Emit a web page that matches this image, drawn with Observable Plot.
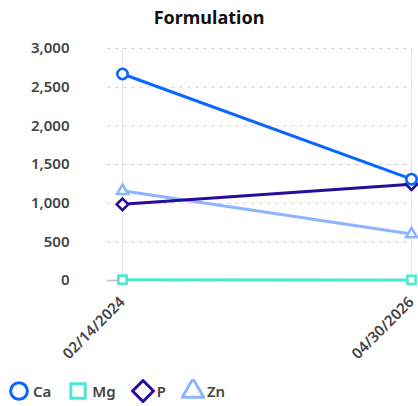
<!DOCTYPE html>
<html><head><meta charset="utf-8">
<script src="https://cdn.jsdelivr.net/npm/d3@7"></script>
<script src="https://cdn.jsdelivr.net/npm/@observablehq/plot@0.6"></script>
<style>
body{margin:0;background:#fff;font-family:"Noto Sans",sans-serif;}
#wrap{width:418px;}
#title{height:34px;line-height:34px;text-align:center;font-size:18px;font-weight:700;color:#111;}
#legend{display:flex;align-items:center;height:30px;padding-top:6px;padding-left:7px;font-size:15px;font-weight:600;color:#444;}
#legend .item{display:flex;align-items:center;margin-right:15px;}
#legend svg{margin-right:2px;}
</style></head><body><div id="wrap"><div id="title">Formulation</div><div id="chart"></div><div id="legend"></div></div>
<script>
const dates = ["02/14/2024", "04/30/2026"];
const series = ["Ca", "Mg", "P", "Zn"];
const caValues = [2670, 1310];
const mgValues = [10, 8];
const pValues = [985, 1245];
const znValues = [1160, 600];
const yTicks = [0, 500, 1000, 1500, 2000, 2500, 3000];
const colors = ["#0866ff", "#4fe6d6", "#2a0c9c", "#8db4ff"];
const symbols = ["circle", "square2", "diamond2", "triangle2"];
const drawOrder = ["Zn", "P", "Mg", "Ca"];

const valuesBySeries = {Ca: caValues, Mg: mgValues, P: pValues, Zn: znValues};
const rows = [];
drawOrder.forEach(s => dates.forEach((d, j) => rows.push({series: s, date: d, value: valuesBySeries[s][j]})));

const chart = Plot.plot({
  width: 418, height: 336,
  marginTop: 14, marginLeft: 122, marginRight: 7, marginBottom: 90,
  style: {fontFamily: "Noto Sans", background: "#fff"},
  x: {type: "point", domain: dates, padding: 0, label: null},
  y: {domain: [0, 3000], label: null},
  color: {domain: series, range: colors},
  symbol: {domain: series, range: symbols},
  marks: [
    Plot.gridX({stroke: "#e3e3e3", strokeOpacity: 1}),
    Plot.gridY(yTicks, {stroke: "#d6d6d6", strokeOpacity: 1, strokeDasharray: "4,4", insetLeft: -15, insetRight: -2}),
    Plot.ruleY([0], {stroke: "#bdbdbd", strokeWidth: 1.5, insetLeft: -15, insetRight: -2}),
    Plot.axisY(yTicks, {tickSize: 0, tickPadding: 53, tickFormat: d3.format(","), fontSize: 15, fontWeight: 600, fill: "#444"}),
    Plot.axisX({tickSize: 0, tickRotate: -45, tickPadding: 19, fontSize: 15, fontWeight: 600, fill: "#444"}),
    Plot.line(rows, {x: "date", y: "value", z: "series", stroke: "series", strokeWidth: 3}),
    Plot.dot(rows, {x: "date", y: "value", symbol: "series", stroke: "series", fill: "white", r: 5.2, strokeWidth: 2.6})
  ]
});
document.getElementById("chart").appendChild(chart);

const legend = d3.select("#legend");
const symMap = {circle: d3.symbolCircle, square2: d3.symbolSquare2, diamond2: d3.symbolDiamond2, triangle2: d3.symbolTriangle2};
const legendSizes = [220, 260, 280, 330];
series.forEach((s, i) => {
  const item = legend.append("div").attr("class", "item");
  const svg = item.append("svg").attr("width", 24).attr("height", 24);
  svg.append("path")
    .attr("transform", "translate(12,12)")
    .attr("d", d3.symbol(symMap[symbols[i]], legendSizes[i])())
    .attr("fill", "none").attr("stroke", colors[i]).attr("stroke-width", 3);
  item.append("span").text(s);
});
</script></body></html>
